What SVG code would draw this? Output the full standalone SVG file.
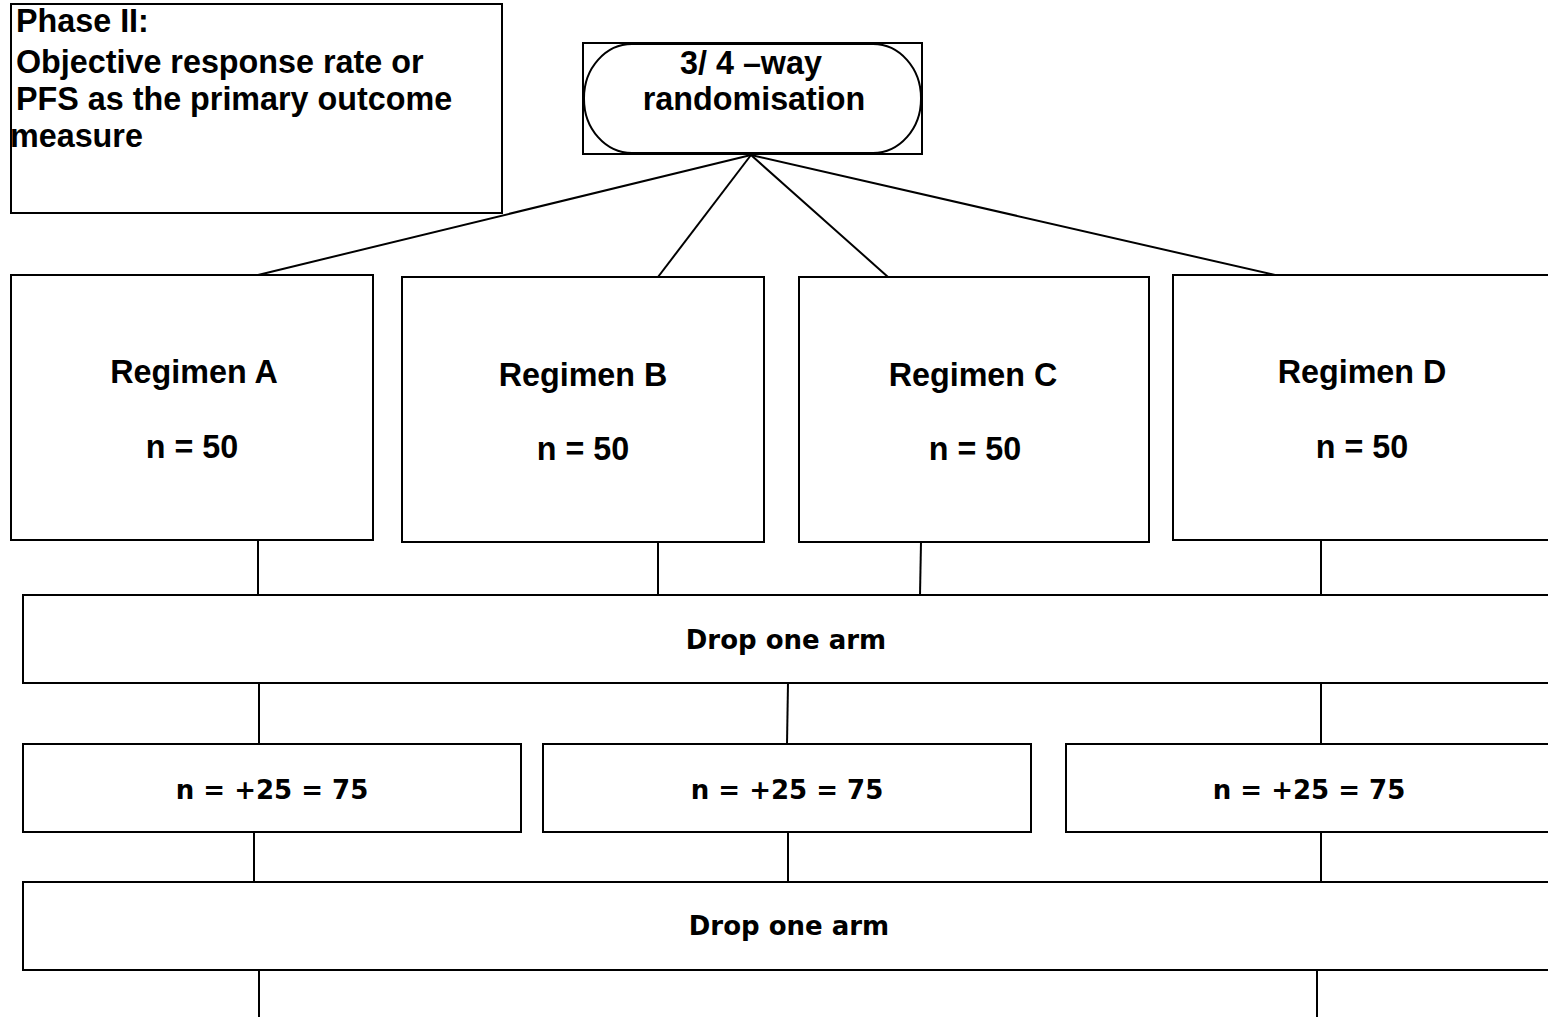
<svg xmlns="http://www.w3.org/2000/svg" width="1548" height="1017" viewBox="0 0 1548 1017">
  <style>
    .box { fill: #ffffff; stroke: #000000; stroke-width: 2; }
    .link { stroke: #000000; stroke-width: 2; fill: none; }
    .arial { font-family: "Liberation Sans", Arial, sans-serif; font-weight: bold; font-size: 32.3px; fill: #000000; }
    .dv { font-family: "DejaVu Sans", Verdana, sans-serif; font-weight: bold; font-size: 26px; fill: #000000; }
    .mid { text-anchor: middle; }
  </style>
  <rect width="1548" height="1017" fill="#ffffff"/>

  <!-- connectors -->
  <g id="connectors">
    <line class="link" x1="751" y1="155" x2="258" y2="275"/>
    <line class="link" x1="751" y1="155" x2="658" y2="277"/>
    <line class="link" x1="751" y1="155" x2="888" y2="277"/>
    <line class="link" x1="751" y1="155" x2="1275" y2="275"/>
    <line class="link" x1="258" y1="540" x2="258" y2="595"/>
    <line class="link" x1="658" y1="542" x2="658" y2="595"/>
    <line class="link" x1="921" y1="542" x2="920" y2="595"/>
    <line class="link" x1="1321" y1="540" x2="1321" y2="595"/>
    <line class="link" x1="259" y1="683" x2="259" y2="744"/>
    <line class="link" x1="788" y1="683" x2="787" y2="744"/>
    <line class="link" x1="1321" y1="683" x2="1321" y2="744"/>
    <line class="link" x1="254" y1="832" x2="254" y2="882"/>
    <line class="link" x1="788" y1="832" x2="788" y2="882"/>
    <line class="link" x1="1321" y1="832" x2="1321" y2="882"/>
    <line class="link" x1="259" y1="970" x2="259" y2="1017"/>
    <line class="link" x1="1317" y1="970" x2="1317" y2="1017"/>
  </g>

  <!-- header note -->
  <g id="phase-note">
    <rect class="box" x="11" y="4" width="491" height="209"/>
    <text class="arial" x="16" y="32">Phase II:</text>
    <text class="arial" x="16" y="73">Objective response rate or</text>
    <text class="arial" x="16" y="110">PFS as the primary outcome</text>
    <text class="arial" x="10" y="147">measure</text>
  </g>

  <!-- randomisation terminator -->
  <g id="randomisation">
    <rect class="box" x="583" y="43" width="339" height="111"/>
    <rect class="box" x="584" y="44" width="337" height="109" rx="48" ry="54"/>
    <text class="arial mid" x="751" y="74">3/ 4 –way</text>
    <text class="arial mid" x="754" y="110">randomisation</text>
  </g>

  <!-- treatment arms -->
  <g id="regimen-a">
    <rect class="box" x="11" y="275" width="362" height="265"/>
    <text class="arial mid" x="194" y="383">Regimen A</text>
    <text class="arial mid" x="192" y="458">n = 50</text>
  </g>
  <g id="regimen-b">
    <rect class="box" x="402" y="277" width="362" height="265"/>
    <text class="arial mid" x="583" y="386">Regimen B</text>
    <text class="arial mid" x="583" y="460">n = 50</text>
  </g>
  <g id="regimen-c">
    <rect class="box" x="799" y="277" width="350" height="265"/>
    <text class="arial mid" x="973" y="386">Regimen C</text>
    <text class="arial mid" x="975" y="460">n = 50</text>
  </g>
  <g id="regimen-d">
    <rect class="box" x="1173" y="275" width="390" height="265"/>
    <text class="arial mid" x="1362" y="383">Regimen D</text>
    <text class="arial mid" x="1362" y="458">n = 50</text>
  </g>

  <!-- first interim -->
  <g id="drop-1">
    <rect class="box" x="23" y="595" width="1540" height="88"/>
    <text class="dv mid" x="786" y="649">Drop one arm</text>
  </g>

  <!-- expanded arms -->
  <g id="expand-1">
    <rect class="box" x="23" y="744" width="498" height="88"/>
    <text class="dv mid" x="272" y="799">n = +25 = 75</text>
  </g>
  <g id="expand-2">
    <rect class="box" x="543" y="744" width="488" height="88"/>
    <text class="dv mid" x="787" y="799">n = +25 = 75</text>
  </g>
  <g id="expand-3">
    <rect class="box" x="1066" y="744" width="497" height="88"/>
    <text class="dv mid" x="1309" y="799">n = +25 = 75</text>
  </g>

  <!-- second interim -->
  <g id="drop-2">
    <rect class="box" x="23" y="882" width="1540" height="88"/>
    <text class="dv mid" x="789" y="935">Drop one arm</text>
  </g>
</svg>
